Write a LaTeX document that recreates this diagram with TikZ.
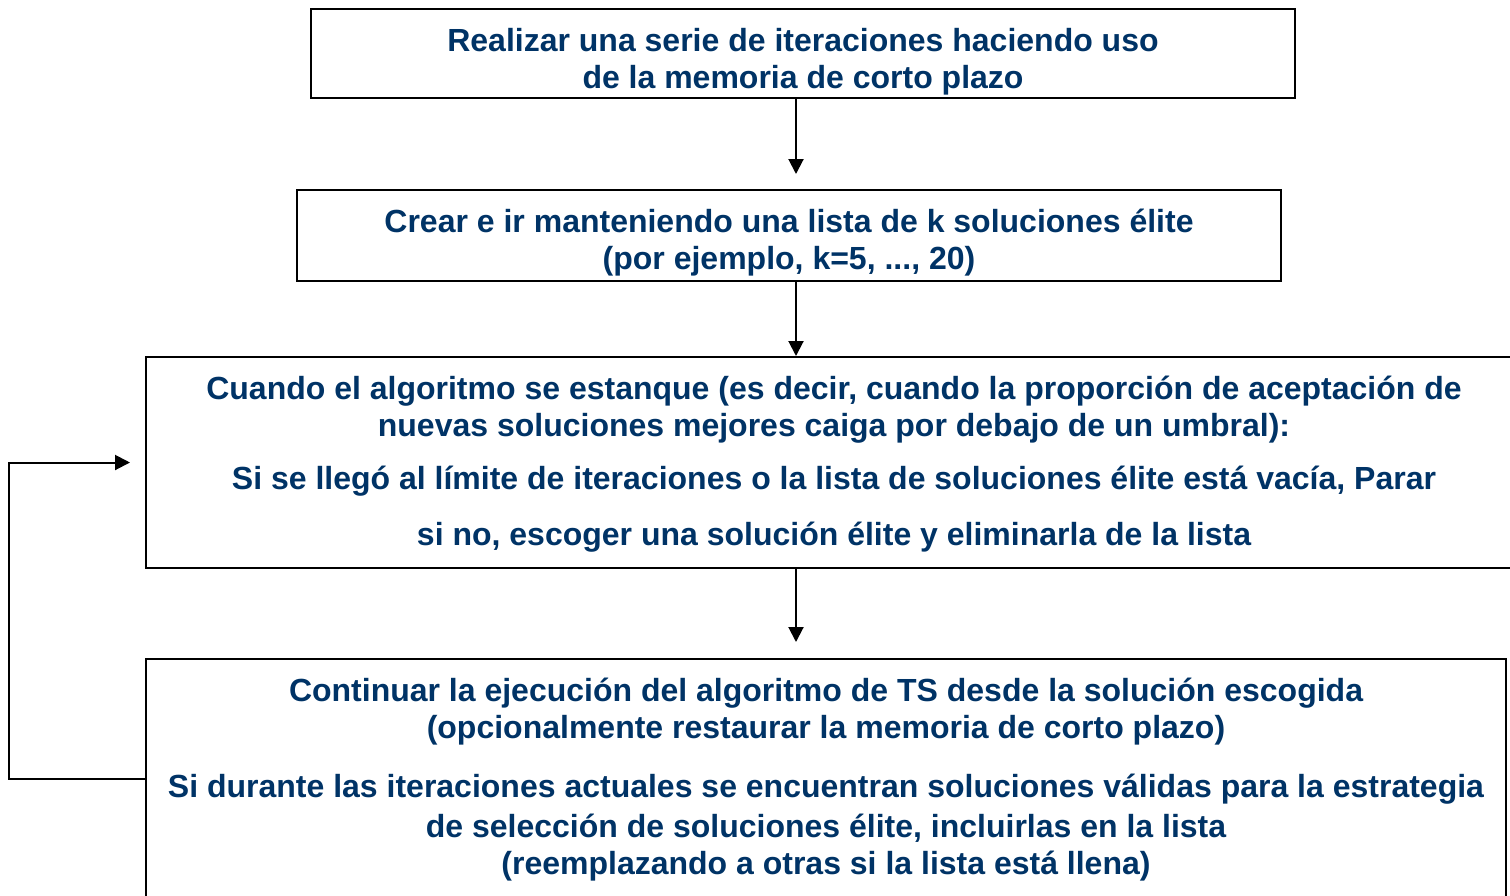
\documentclass[tikz,border=0pt]{standalone}
\usepackage{fontspec}
\setmainfont{Liberation Sans}
\usepackage{xcolor}
\usepackage{tikz}
\usetikzlibrary{arrows.meta}
\definecolor{navy}{RGB}{0,51,102}

\begin{document}
\begin{tikzpicture}[x=1pt, y=-1pt,
	stepbox/.style={draw, rectangle, line width=2pt, inner sep=0pt},
	steptext/.style={align=center, text=navy, font=\fontsize{32}{37}\selectfont\bfseries, inner sep=0pt},
	flow/.style={-{Triangle[length=15pt, width=15pt]}, line width=2pt}]
	\useasboundingbox (0,0) rectangle (1510,895);
	\clip (0,0) rectangle (1510,895);

	\node[stepbox, minimum width=984pt, minimum height=89pt] (iter) at (803,53.5) {};
	\node[steptext] (iterText) at ([yshift=-8pt] iter.center) {Realizar una serie de iteraciones haciendo uso\\de la memoria de corto plazo};
	\node[stepbox, minimum width=984pt, minimum height=91pt] (elite) at (789,235.5) {};
	\node[steptext] (eliteText) at ([yshift=-7pt] elite.center) {Crear e ir manteniendo una lista de k soluciones élite\\(por ejemplo, k=5, ..., 20)};
	\node[stepbox, minimum width=1376pt, minimum height=211pt] (stall) at (834,462.5) {};
	\node[steptext] (stallText) at ([yshift=-2pt] stall.center) {Cuando el algoritmo se estanque (es decir, cuando la proporción de aceptación de\\nuevas soluciones mejores caiga por debajo de un umbral):\\[16pt]Si se llegó al límite de iteraciones o la lista de soluciones élite está vacía, Parar\\[19pt]si no, escoger una solución élite y eliminarla de la lista};
	\node[stepbox, minimum width=1360pt, minimum height=240pt] (resume) at (826,779) {};
	\node[steptext] (resumeText) at ([yshift=-1pt] resume.center) {Continuar la ejecución del algoritmo de TS desde la solución escogida\\(opcionalmente restaurar la memoria de corto plazo)\\[22pt]Si durante las iteraciones actuales se encuentran soluciones válidas para la estrategia\\[3pt]de selección de soluciones élite, incluirlas en la lista\\(reemplazando a otras si la lista está llena)};

	\coordinate (axis) at (796,0);
	\draw [flow, shorten >=15pt] (iter.south -| axis) -- (elite.north -| axis);
	\draw [flow] (elite.south -| axis) -- (stall.north -| axis);
	\draw [flow, shorten >=16pt] (stall.south -| axis) -- (resume.north -| axis);
	% back to the stalled search
	\draw [flow, shorten >=15pt] (resume.west) -- ++(-136,0) |- (stall.west);
\end{tikzpicture}
\end{document}
